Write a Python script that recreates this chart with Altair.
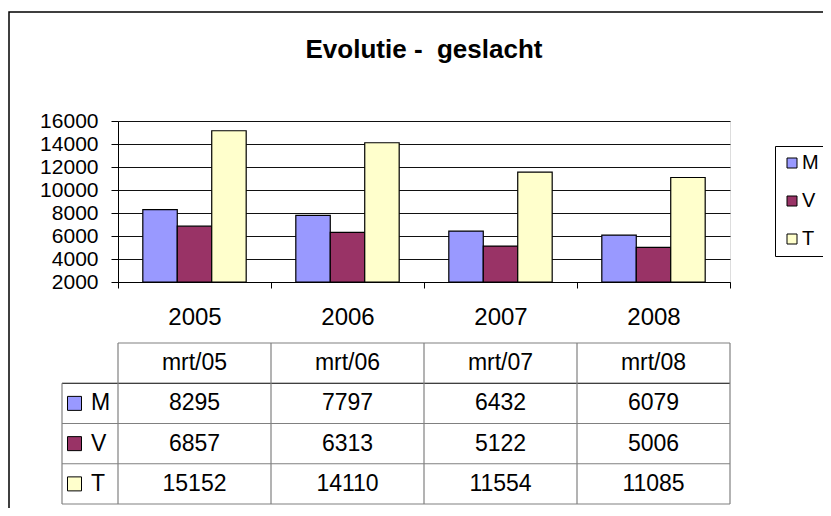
import altair as alt
import pandas as pd

# ---------------- data ----------------
years = ["2005", "2006", "2007", "2008"]
dates = ["mrt/05", "mrt/06", "mrt/07", "mrt/08"]
series = ["M", "V", "T"]
m_vals = [8295, 7797, 6432, 6079]
v_vals = [6857, 6313, 5122, 5006]
t_vals = [15152, 14110, 11554, 11085]
y_ticks = [2000, 4000, 6000, 8000, 10000, 12000, 14000, 16000]
colors = ["#9999FF", "#993366", "#FFFFCC"]
title_text = "Evolutie -\u00a0 geslacht"

FONT = "Liberation Sans"
W, H = 612, 161
COL_PX = W / len(years)
values_by_series = {"M": m_vals, "V": v_vals, "T": t_vals}

bars_df = pd.DataFrame(
    [{"jaar": y, "serie": s, "waarde": values_by_series[s][i]}
     for s in series for i, y in enumerate(years)]
)

color_scale = alt.Scale(domain=series, range=colors)

bars = alt.Chart(bars_df).mark_bar(stroke="black", strokeWidth=1.2).encode(
    x=alt.X("jaar:N", sort=years,
            scale=alt.Scale(paddingInner=0, paddingOuter=0),
            axis=alt.Axis(title=None, labelAngle=0, labelFontSize=24, labelFont=FONT,
                          labelColor="black", tickBand="extent", tickSize=6,
                          tickColor="black", domainColor="black", labelPadding=17,
                          grid=False)),
    xOffset=alt.XOffset("serie:N", sort=series,
                        scale=alt.Scale(paddingInner=0, paddingOuter=0.72)),
    y=alt.Y("waarde:Q",
            scale=alt.Scale(domain=[2000, 16000], nice=False, zero=False),
            axis=alt.Axis(title=None, values=y_ticks, format="d", labelFontSize=21,
                          labelFont=FONT, labelColor="black", tickSize=7,
                          tickColor="black", domainColor="black", labelPadding=13,
                          grid=True, gridColor="#111111", gridWidth=1)),
    y2=alt.datum(2000),
    color=alt.Color("serie:N", sort=series, scale=color_scale,
                    legend=alt.Legend(title=None, orient="none", legendX=657, legendY=25,
                                      symbolType="square", symbolSize=100,
                                      symbolStrokeColor="black", symbolStrokeWidth=1,
                                      labelFontSize=20, labelFont=FONT, labelColor="black",
                                      strokeColor="black", fillColor="white",
                                      padding=7, rowPadding=18, labelOffset=0)),
)

# ---------------- data table ----------------
n_cols = len(years)
n_rows = 1 + len(series)
KEY_LEFT = -56 / COL_PX
KEY_SQ = -43.5 / COL_PX
KEY_LBL = -27 / COL_PX

rule_rows = []
for r in range(n_rows + 1):
    rule_rows.append({"x": 0 if r == 0 else KEY_LEFT, "x2": n_cols, "y": r, "y2": r,
                      "kind": "dark" if r == 1 else "light"})
rule_rows.append({"x": KEY_LEFT, "x2": KEY_LEFT, "y": 1, "y2": n_rows, "kind": "light"})
for c in range(n_cols + 1):
    rule_rows.append({"x": c, "x2": c, "y": 0, "y2": n_rows, "kind": "light"})
rules_df = pd.DataFrame(rule_rows)

cell_rows = [{"x": i + 0.5, "y": 0.5, "t": d} for i, d in enumerate(dates)]
for r, s in enumerate(series):
    for i, v in enumerate(values_by_series[s]):
        cell_rows.append({"x": i + 0.5, "y": r + 1.5, "t": str(v)})
cells_df = pd.DataFrame(cell_rows)

keys_df = pd.DataFrame([{"x": KEY_SQ, "xl": KEY_LBL, "y": r + 1.5, "serie": s}
                        for r, s in enumerate(series)])

TX = alt.Scale(domain=[0, n_cols], range=[0, W], nice=False, zero=False)
TY = alt.Scale(domain=[0, n_rows], range=[222, 383], nice=False, zero=False)

rules = alt.Chart(rules_df).mark_rule(strokeWidth=1.2).encode(
    x=alt.X("x:Q", scale=TX, axis=None),
    x2="x2:Q",
    y=alt.Y("y:Q", scale=TY, axis=None),
    y2="y2:Q",
    stroke=alt.Stroke("kind:N", scale=alt.Scale(domain=["dark", "light"],
                                               range=["#000000", "#808080"]), legend=None),
)

cells = alt.Chart(cells_df).mark_text(fontSize=23, font=FONT, color="black",
                                      align="center", baseline="middle").encode(
    x=alt.X("x:Q", scale=TX, axis=None),
    y=alt.Y("y:Q", scale=TY, axis=None),
    text="t:N",
)

keys = alt.Chart(keys_df).mark_point(shape="square", filled=True, size=196, stroke="black",
                                     strokeWidth=1, opacity=1).encode(
    x=alt.X("x:Q", scale=TX, axis=None),
    y=alt.Y("y:Q", scale=TY, axis=None),
    fill=alt.Fill("serie:N", scale=color_scale, legend=None),
)

key_labels = alt.Chart(keys_df).mark_text(fontSize=23, font=FONT, color="black",
                                          align="left", baseline="middle").encode(
    x=alt.X("xl:Q", scale=TX, axis=None),
    y=alt.Y("y:Q", scale=TY, axis=None),
    text="serie:N",
)

frame = alt.Chart(pd.DataFrame({"f": [0]})).mark_rect(
    fillOpacity=0, stroke="#000000", strokeWidth=1.5).encode(
    x=alt.value(-109), x2=alt.value(900), y=alt.value(-109), y2=alt.value(700))

chart = alt.layer(frame, bars, rules, cells, keys, key_labels).resolve_scale(
    x="independent", y="independent"
).properties(
    width=W, height=H,
    title=alt.TitleParams(text=title_text, fontSize=26, font=FONT, fontWeight="bold",
                          anchor="middle", frame="group", offset=-52, color="black"),
    autosize=alt.AutoSizeParams(type="none"),
    padding={"left": 110, "top": 113, "right": 93, "bottom": 226},
).configure_view(
    fill="#C0C0C0", stroke="#808080", strokeWidth=1.5
).configure(font=FONT, background="white")

chart.save("out.html", embed_options={"renderer": "svg", "actions": False})
